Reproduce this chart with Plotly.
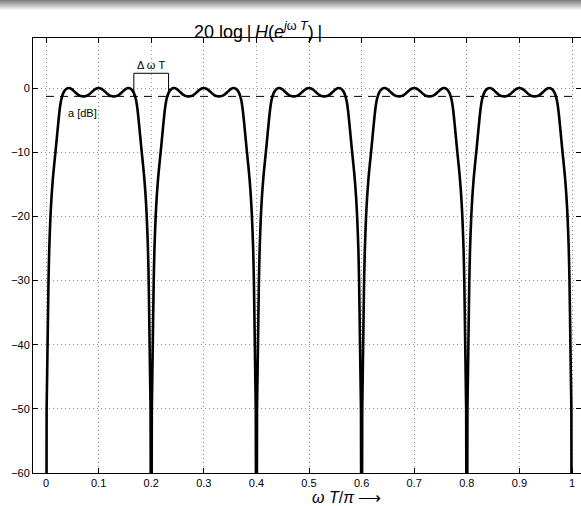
import plotly.graph_objects as go

# one passband lobe (left half, offset in omega*T/pi, level in dB)
lobe_u = [0.0, 0.0012, 0.003, 0.0048, 0.0062, 0.0085, 0.0105, 0.013, 0.0155, 0.018,
          0.021, 0.0235, 0.0258, 0.028, 0.0305, 0.033, 0.0355, 0.038, 0.041, 0.044,
          0.048, 0.052, 0.056, 0.060, 0.064, 0.068, 0.072, 0.076, 0.080, 0.084,
          0.088, 0.092, 0.096, 0.100]
lobe_db = [-120, -50, -40, -30, -25, -20, -17, -14.2, -12, -10,
           -7.4, -5.3, -3.5, -2.2, -1.35, -0.75, -0.4, -0.18, -0.04, 0,
           -0.12, -0.38, -0.7, -0.98, -1.18, -1.28, -1.3, -1.25, -1.1, -0.85,
           -0.55, -0.27, -0.07, 0]
lobe_starts = [0.0, 0.2, 0.4, 0.6, 0.8]
lobe_width = 0.2

ripple_level = -1.3          # the dashed "a [dB]" line
delta_lo, delta_hi = 0.167, 0.233

x_ticks = [0, 0.1, 0.2, 0.3, 0.4, 0.5, 0.6, 0.7, 0.8, 0.9, 1]
x_tick_text = ['0', '0.1', '0.2', '0.3', '0.4', '0.5', '0.6', '0.7', '0.8', '0.9', '1']
y_ticks = [-60, -50, -40, -30, -20, -10, 0]

# build the whole curve: each lobe is the read half plus its mirror
xs, ys = [], []
for s in lobe_starts:
    xs += [s + u for u in lobe_u]
    ys += lobe_db
    xs += [s + lobe_width - u for u in reversed(lobe_u[:-1])]
    ys += list(reversed(lobe_db[:-1]))

font = dict(family='Liberation Sans, Arial, sans-serif', color='black')

fig = go.Figure()
fig.add_trace(go.Scatter(x=xs, y=ys, mode='lines',
                         line=dict(color='black', width=2.6, shape='spline', smoothing=0.8),
                         showlegend=False))
fig.add_trace(go.Scatter(x=[0, 1], y=[ripple_level, ripple_level], mode='lines',
                         line=dict(color='black', width=1, dash='8px,6px'), showlegend=False))
# Delta omega T bracket
fig.add_trace(go.Scatter(x=[delta_lo, delta_lo, delta_hi, delta_hi],
                         y=[ripple_level, 2.3, 2.3, ripple_level], mode='lines',
                         line=dict(color='black', width=1), showlegend=False))

fig.add_annotation(x=0.2, y=3.6, text='Δ ω T', showarrow=False,
                   font=dict(size=11, **font))
fig.add_annotation(x=0.069, y=-3.9, text='a [dB]', showarrow=False,
                   font=dict(size=11, **font))

# window-like grey band at the very top
for i in range(10):
    g = int(130 + i * 12.5)
    fig.add_shape(type='rect', xref='paper', yref='paper',
                  x0=-0.07, x1=1.05,
                  y0=1 + (38 - i - 1) / 435, y1=1 + (38 - i) / 435,
                  line=dict(width=0), fillcolor=f'rgb({g},{g},{g})', layer='above')

fig.add_annotation(xref='paper', yref='paper', x=(258 - 33) / 548, y=1 + (38 - 17) / 435,
                   text='20 log\u2009|\u2009<i>H</i>(<i>e</i><sup><i>j</i>ω <i>T</i></sup>)\u2009|',
                   showarrow=False, font=dict(size=18, **font))
fig.add_annotation(xref='paper', yref='paper', x=(346 - 33) / 548, y=-(507 - 473) / 435,
                   yanchor='bottom', borderpad=0,
                   text='<i>ω T</i>/<i>π</i> ⟶', showarrow=False,
                   font=dict(size=16, **font))

axis_style = dict(showline=True, linecolor='black', linewidth=1, mirror='ticks',
                  ticks='inside', ticklen=5, tickcolor='black', automargin=False,
                  showgrid=True, gridcolor='#8a8a8a', griddash='1px,3px', gridwidth=1,
                  zeroline=False, tickfont=dict(size=11, **font))
fig.update_xaxes(range=[-13 / 526, 1 + 9 / 526], tickvals=x_ticks, ticktext=x_tick_text,
                 **axis_style)
fig.update_yaxes(range=[-60, 7.8], tickvals=y_ticks, **axis_style)

fig.update_layout(width=581, height=506,
                  margin=dict(l=33, r=0, t=38, b=33),
                  paper_bgcolor='white', plot_bgcolor='white')

# drop the page's default body margin so the figure sits at the window corner
fig.write_html("out.html", config={'displayModeBar': False},
               post_script="document.body.style.margin='0';")
